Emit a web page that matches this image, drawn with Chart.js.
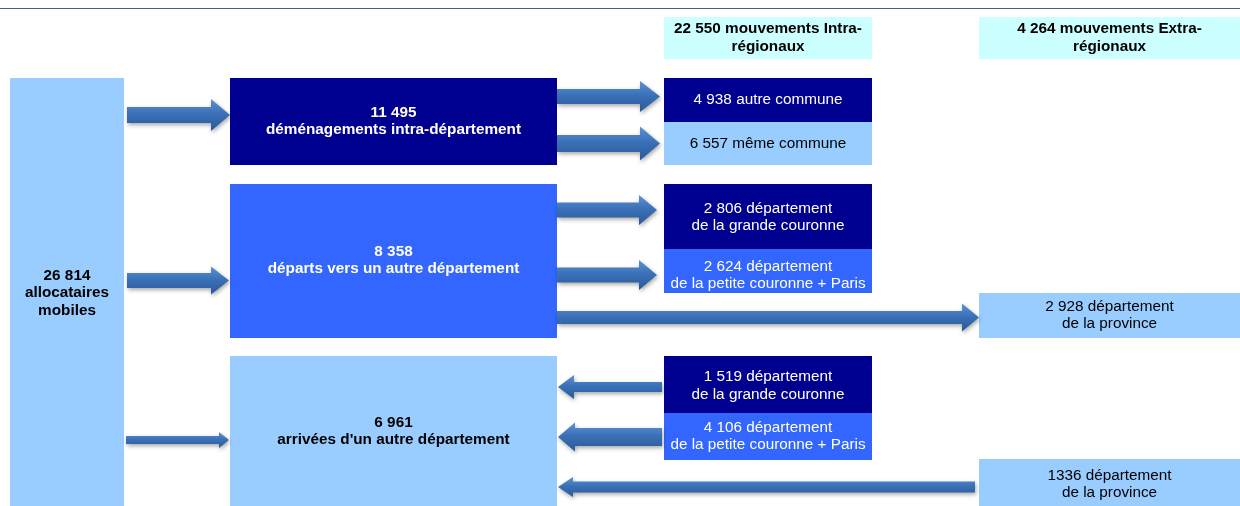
<!DOCTYPE html>
<html lang="fr">
<head>
<meta charset="utf-8">
<title>Mouvements des allocataires</title>
<script src="https://cdn.jsdelivr.net/npm/chart.js@4.4.1/dist/chart.umd.min.js"></script>
<style>
  html, body { margin: 0; padding: 0; background: #fff; }
  #wrap { position: relative; width: 1240px; height: 506px; }
</style>
</head>
<body>
<div id="wrap"><canvas id="chart-flux"></canvas></div>
<script>
/* ── Data ── */
const totalNumber = '26 814';
const totalLabel = ['allocataires', 'mobiles'];

const headerNumbers = ['22 550', '4 264'];
const headerLabels = [['mouvements Intra-', 'régionaux'], ['mouvements Extra-', 'régionaux']];

const flowNumbers = ['11 495', '8 358', '6 961'];
const flowLabels = ['déménagements intra-département', 'départs vers un autre département', "arrivées d'un autre département"];

const destNumbers = ['4 938', '6 557', '2 806', '2 624', '2 928', '1 519', '4 106', '1336'];
const destLabels = [
  ['autre commune'],
  ['même commune'],
  ['département', 'de la grande couronne'],
  ['département', 'de la petite couronne + Paris'],
  ['département', 'de la province'],
  ['département', 'de la grande couronne'],
  ['département', 'de la petite couronne + Paris'],
  ['département', 'de la province'],
];

/* ── Colours ── */
const COLORS = {
  navy: '#000090',
  blue: '#3366ff',
  light: '#99ccff',
  header: '#ccffff',
  rule: '#3d5f99',
};

/* ── Layout (diagram units = canvas px) ── */
const W = 1240, H = 506;
const FONT = '"Liberation Sans", Arial, Helvetica, sans-serif';

function lines(num, label) { return [num + ' ' + label[0]].concat(label.slice(1)); }

const boxes = [
  // left total
  { x0: 10, x1: 124, y0: 78, y1: 506, fill: COLORS.light, color: '#000', bold: true, cy: 293,
    text: [totalNumber].concat(totalLabel) },
  // headers
  { x0: 664, x1: 872, y0: 17, y1: 59, fill: COLORS.header, color: '#000', bold: true, cy: 38,
    text: lines(headerNumbers[0], headerLabels[0]) },
  { x0: 979, x1: 1240, y0: 17, y1: 59, fill: COLORS.header, color: '#000', bold: true, cy: 38,
    text: lines(headerNumbers[1], headerLabels[1]) },
  // middle groups
  { x0: 230, x1: 557, y0: 78, y1: 165, fill: COLORS.navy, color: '#fff', bold: true, cy: 121.5,
    text: [flowNumbers[0], flowLabels[0]] },
  { x0: 230, x1: 557, y0: 184, y1: 338, fill: COLORS.blue, color: '#fff', bold: true, cy: 260.5,
    text: [flowNumbers[1], flowLabels[1]] },
  { x0: 230, x1: 557, y0: 356, y1: 506, fill: COLORS.light, color: '#000', bold: true, cy: 431.5,
    text: [flowNumbers[2], flowLabels[2]] },
  // destinations
  { x0: 664, x1: 872, y0: 78, y1: 122, fill: COLORS.navy, color: '#fff', cy: 100, text: lines(destNumbers[0], destLabels[0]) },
  { x0: 664, x1: 872, y0: 122, y1: 165, fill: COLORS.light, color: '#000', cy: 144, text: lines(destNumbers[1], destLabels[1]) },
  { x0: 664, x1: 872, y0: 184, y1: 249, fill: COLORS.navy, color: '#fff', cy: 217.5, text: lines(destNumbers[2], destLabels[2]) },
  { x0: 664, x1: 872, y0: 249, y1: 293, fill: COLORS.blue, color: '#fff', cy: 275.5, text: lines(destNumbers[3], destLabels[3]) },
  { x0: 979, x1: 1240, y0: 293, y1: 338, fill: COLORS.light, color: '#000', cy: 315.5, text: lines(destNumbers[4], destLabels[4]) },
  { x0: 664, x1: 872, y0: 356, y1: 413, fill: COLORS.navy, color: '#fff', cy: 386, text: lines(destNumbers[5], destLabels[5]) },
  { x0: 664, x1: 872, y0: 413, y1: 460, fill: COLORS.blue, color: '#fff', cy: 436.5, text: lines(destNumbers[6], destLabels[6]) },
  { x0: 979, x1: 1240, y0: 459, y1: 506, fill: COLORS.light, color: '#000', cy: 484.5, text: lines(destNumbers[7], destLabels[7]) },
];

// from -> to, centre line y, shaft and head thickness, head length
const arrows = [
  { from: 127, to: 230, y: 115, shaft: 16, head: 32, len: 19 },
  { from: 127, to: 229, y: 280.5, shaft: 15, head: 28, len: 18 },
  { from: 126, to: 229, y: 440, shaft: 8, head: 16, len: 10 },
  { from: 557, to: 660, y: 96.5, shaft: 15, head: 31, len: 20 },
  { from: 557, to: 660, y: 143.5, shaft: 17, head: 34, len: 20 },
  { from: 557, to: 657, y: 210, shaft: 15, head: 30, len: 18 },
  { from: 557, to: 657, y: 275, shaft: 15, head: 30, len: 18 },
  { from: 557, to: 979, y: 317.5, shaft: 13, head: 28, len: 17 },
  { from: 662, to: 558, y: 387, shaft: 10, head: 24, len: 16 },
  { from: 662, to: 558, y: 437, shaft: 18, head: 29, len: 17 },
  { from: 975, to: 558, y: 487, shaft: 11, head: 20, len: 15 },
];

/* ── Drawing plugin ── */
const flowPlugin = {
  id: 'flowDiagram',
  beforeDraw(chart) {
    const ctx = chart.ctx;
    const sx = chart.scales.x, sy = chart.scales.y;
    const px = v => sx.getPixelForValue(v);
    const py = v => sy.getPixelForValue(v);

    ctx.save();
    ctx.fillStyle = '#fff';
    ctx.fillRect(0, 0, chart.width, chart.height);

    // top rule
    ctx.strokeStyle = COLORS.rule;
    ctx.lineWidth = 1;
    ctx.beginPath();
    ctx.moveTo(px(0), Math.round(py(7.5)) + 0.5);
    ctx.lineTo(px(W), Math.round(py(7.5)) + 0.5);
    ctx.stroke();

    // boxes
    boxes.forEach(b => {
      ctx.fillStyle = b.fill;
      ctx.fillRect(px(b.x0), py(b.y0), px(b.x1) - px(b.x0), py(b.y1) - py(b.y0));
    });

    // arrows
    arrows.forEach(a => {
      const dir = a.to > a.from ? 1 : -1;
      const yc = py(a.y);
      const s = (py(a.y + a.shaft) - yc) / 2;
      const h = (py(a.y + a.head) - yc) / 2;
      const x0 = px(a.from), x1 = px(a.to);
      const xh = px(a.to - dir * a.len);
      const g = ctx.createLinearGradient(0, yc - h, 0, yc + h);
      g.addColorStop(0, '#5d92d4');
      g.addColorStop(0.45, '#3b71b8');
      g.addColorStop(1, '#2a5896');
      ctx.save();
      ctx.shadowColor = 'rgba(0,0,0,0.35)';
      ctx.shadowBlur = 4;
      ctx.shadowOffsetX = 1;
      ctx.shadowOffsetY = 2;
      ctx.fillStyle = g;
      ctx.beginPath();
      ctx.moveTo(x0, yc - s);
      ctx.lineTo(xh, yc - s);
      ctx.lineTo(xh, yc - h);
      ctx.lineTo(x1, yc);
      ctx.lineTo(xh, yc + h);
      ctx.lineTo(xh, yc + s);
      ctx.lineTo(x0, yc + s);
      ctx.closePath();
      ctx.fill();
      ctx.restore();
    });

    // texts
    ctx.textAlign = 'center';
    ctx.textBaseline = 'middle';
    boxes.forEach(b => {
      ctx.fillStyle = b.color;
      ctx.font = (b.bold ? 'bold ' : '') + '15.3px ' + FONT;
      const cx = (px(b.x0) + px(b.x1)) / 2;
      const lh = 17.5;
      const top = py(b.cy) - (b.text.length - 1) * lh / 2;
      b.text.forEach((t, i) => ctx.fillText(t, cx, top + i * lh));
    });
    ctx.restore();
  }
};

new Chart(document.getElementById('chart-flux'), {
  type: 'scatter',
  data: { datasets: [] },
  options: {
    responsive: true,
    maintainAspectRatio: false,
    animation: false,
    layout: { padding: 0 },
    plugins: { legend: { display: false }, tooltip: { enabled: false } },
    scales: {
      x: { type: 'linear', min: 0, max: W, display: false },
      y: { type: 'linear', min: 0, max: H, reverse: true, display: false },
    }
  },
  plugins: [flowPlugin]
});
</script>
</body>
</html>
